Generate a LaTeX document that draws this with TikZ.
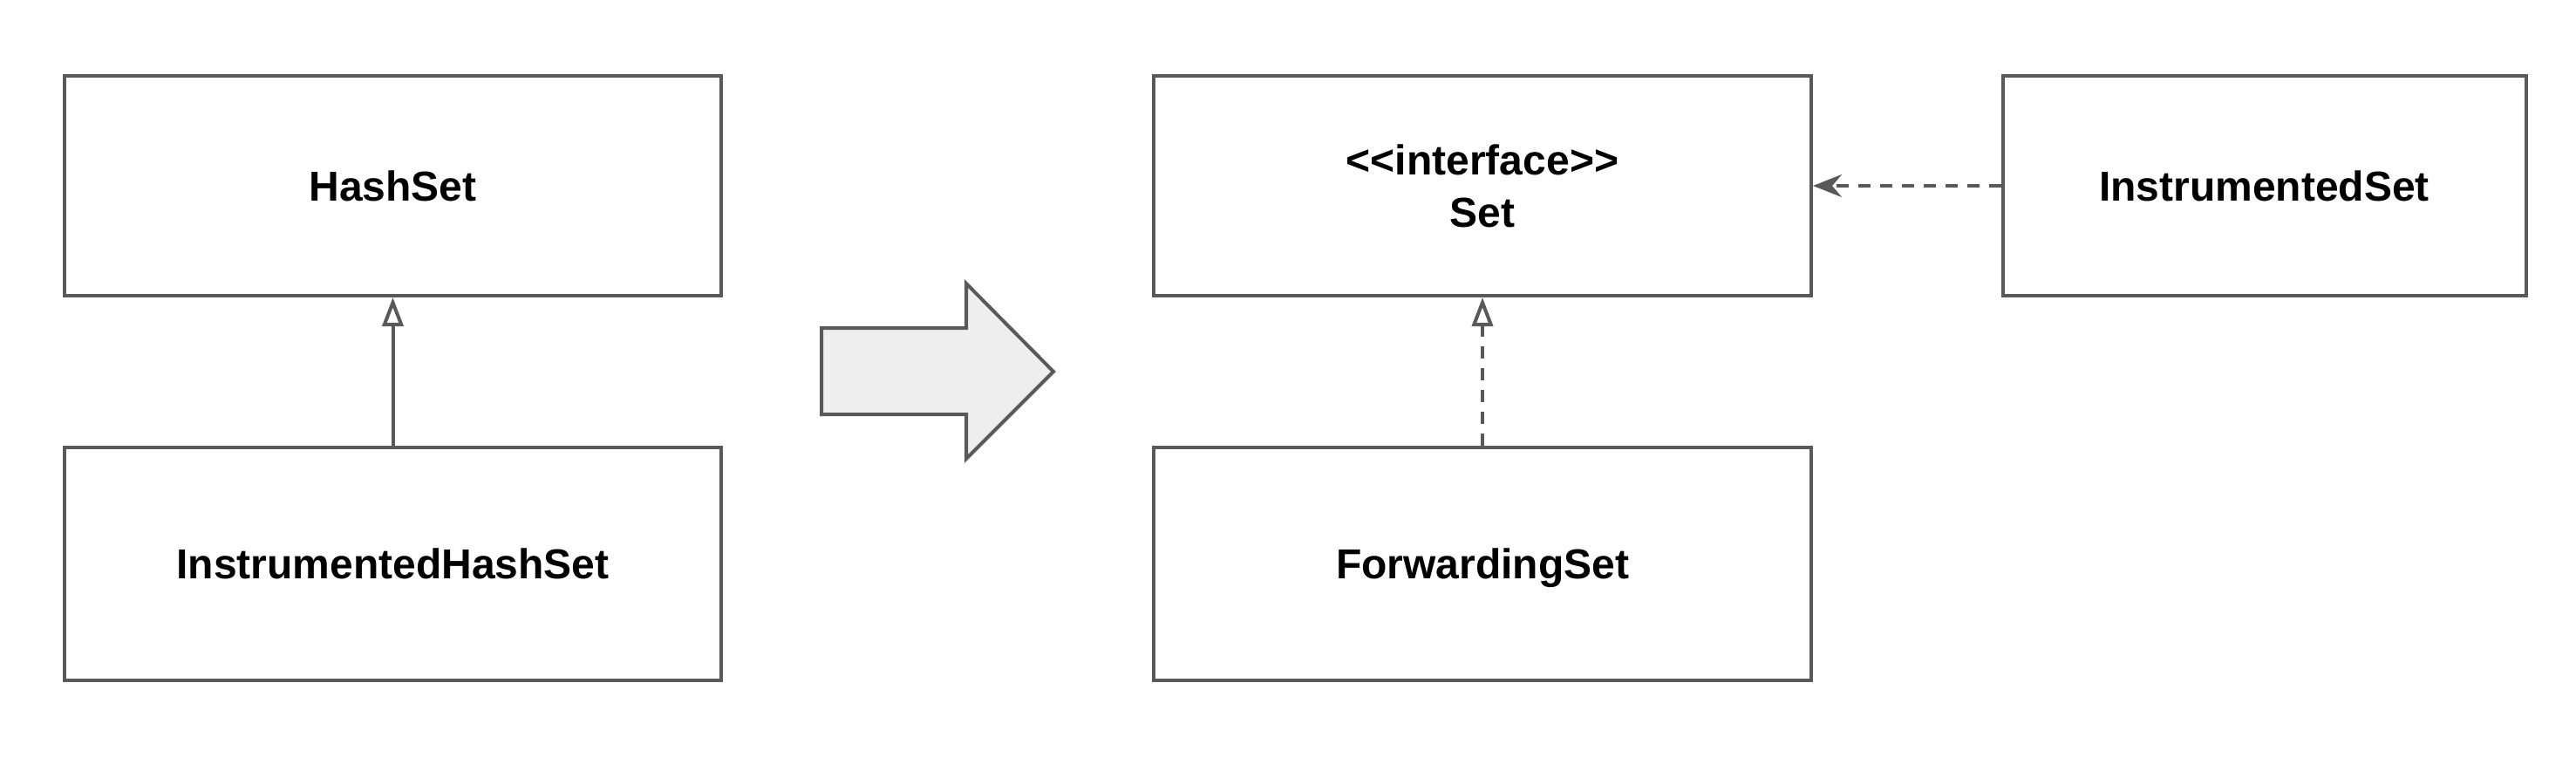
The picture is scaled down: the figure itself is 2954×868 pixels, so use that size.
\documentclass[tikz,border=0pt]{standalone}
\usepackage{fontspec}
\setmainfont{Liberation Sans}
\usetikzlibrary{arrows.meta}
\definecolor{edge}{HTML}{595959}
\definecolor{fillg}{HTML}{EEEEEE}
\tikzset{
  cls/.style={draw=edge, line width=4pt, fill=white, inner sep=0pt, align=center,
    text depth=0pt, font=\bfseries\fontsize{48}{60}\selectfont},
  inherit/.style={draw=edge, line width=4pt, -{Triangle[open, length=33pt, width=24pt, fill=white]}},
  realize/.style={draw=edge, line width=4pt, dash pattern=on 14pt off 11pt, -{Triangle[open, length=33pt, width=24pt, fill=white]}},
  depend/.style={draw=edge, line width=4pt, dash pattern=on 14pt off 11pt, -{Stealth[length=33pt, width=26pt, inset=11pt]}},
  bigarrow/.style={draw=edge, line width=4pt, fill=fillg, line join=miter}
}
\begin{document}
\begin{tikzpicture}[x=1pt, y=-1pt]
\useasboundingbox (0,0) rectangle (2954,868);
\node[cls, minimum width=753pt, minimum height=252pt] (hash) at (450.5,213) {HashSet};
\node[cls, minimum width=753pt, minimum height=267pt] (ihash) at (450.5,646.5) {InstrumentedHashSet};
\node[cls, minimum width=754pt, minimum height=252pt] (set) at (1700,213) {<\kern0pt<interface>\kern0pt>\\Set};
\node[cls, minimum width=754pt, minimum height=267pt] (fwd) at (1700,646.5) {ForwardingSet};
\node[cls, minimum width=600pt, minimum height=252pt] (iset) at (2596.5,213) {InstrumentedSet};
\draw[inherit] (ihash.north) -- (hash.south);
\draw[realize] (fwd.north) -- (set.south);
\draw[depend] (iset.west) -- (set.east);
\draw[bigarrow] (942,376) -- (1108,376) -- (1108,325) -- (1208,426) -- (1108,526) -- (1108,475) -- (942,475) -- cycle;
\end{tikzpicture}
\end{document}
